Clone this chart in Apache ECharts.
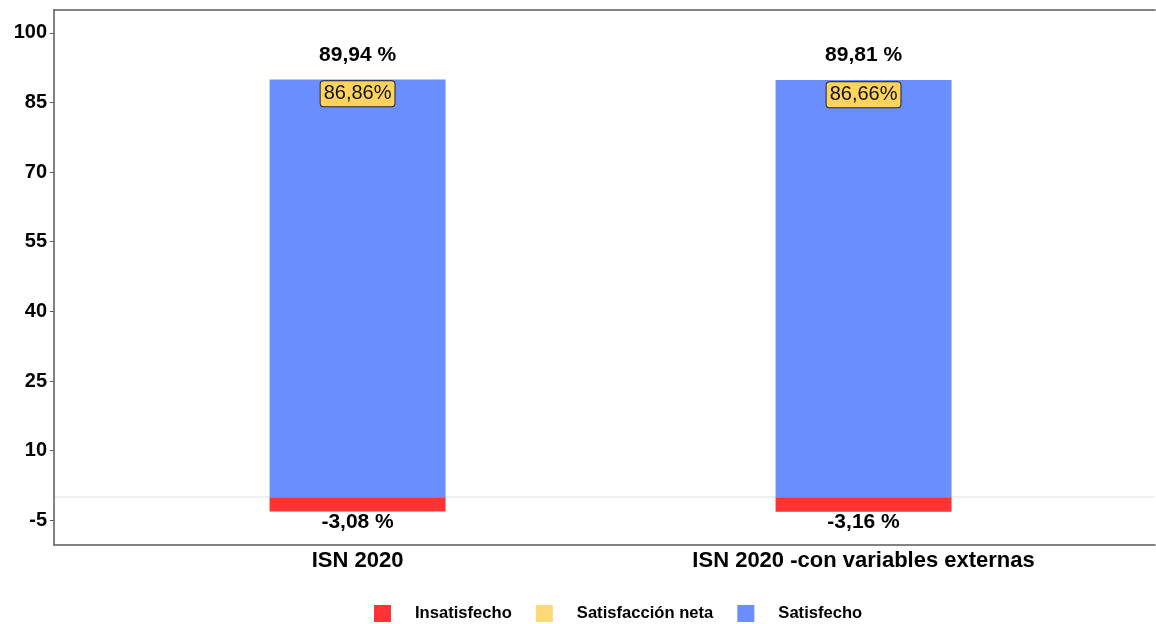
<!DOCTYPE html>
<html>
<head>
<meta charset="utf-8">
<script src="https://cdn.jsdelivr.net/npm/echarts@6/dist/echarts.min.js"></script>
<style>
html,body{margin:0;padding:0;background:#fff;}
#c{width:1156px;height:624px;}
</style>
</head>
<body>
<div id="c"></div>
<script>
const categories = ['ISN 2020', 'ISN 2020 -con variables externas'];
const satisfecho = [89.94, 89.81];
const insatisfecho = [-3.08, -3.16];
const satisfaccionNeta = [86.86, 86.66];
const yTicks = [-5, 10, 25, 40, 55, 70, 85, 100];

const FONT = "'Liberation Sans', Arial, sans-serif";
const fmt = v => v.toFixed(2).replace('.', ',');
const toXY = arr => arr.map((v, i) => [i + 1, v]);
const BORDER = {show: true, onZero: false, lineStyle: {color: '#5a5a5a', width: 1.5}};

const chart = echarts.init(document.getElementById('c'), null, {renderer: 'canvas'});
chart.setOption({
  animation: false,
  backgroundColor: '#ffffff',
  textStyle: {fontFamily: FONT},
  grid: {left: 54, right: 1, top: 10, bottom: 79, show: false},
  legend: {
    left: 369, top: 600,
    icon: 'rect', itemWidth: 17, itemHeight: 17, itemGap: 24,
    selectedMode: false,
    data: ['Insatisfecho', 'Satisfacción neta', 'Satisfecho'],
    textStyle: {fontFamily: FONT, fontWeight: 'bold', fontSize: 16.6, color: '#000', padding: [0, 0, 0, 19]}
  },
  xAxis: [{
    type: 'value', min: 0.4, max: 2.576,
    axisLine: BORDER,
    axisTick: {show: false},
    splitLine: {show: false},
    axisLabel: {
      customValues: [1, 2],
      formatter: v => categories[Math.round(v) - 1],
      fontFamily: FONT, fontWeight: 'bold', fontSize: 22, color: '#000', margin: 5
    }
  }, {
    type: 'value', position: 'top', min: 0.4, max: 2.576,
    axisLine: BORDER,
    axisTick: {show: false}, axisLabel: {show: false}, splitLine: {show: false}
  }],
  yAxis: {
    type: 'value', min: -10.3, max: 104.9,
    axisLine: BORDER,
    splitLine: {show: false},
    axisTick: {show: true, customValues: yTicks, length: 4, lineStyle: {color: '#5a5a5a', width: 1}},
    axisLabel: {
      customValues: yTicks,
      fontFamily: FONT, fontWeight: 'bold', fontSize: 20, color: '#000', margin: 7
    }
  },
  series: [
    {
      name: 'Satisfecho', type: 'bar', stack: 's', barWidth: 176,
      data: toXY(satisfecho),
      itemStyle: {color: '#6B8EFF'},
      label: {
        show: true, position: 'top', distance: 14,
        formatter: p => fmt(p.value[1]) + ' %',
        fontFamily: FONT, fontWeight: 'bold', fontSize: 21, color: '#000'
      },
      markLine: {
        silent: true, symbol: 'none', z: 0,
        label: {show: false},
        lineStyle: {color: '#ebebeb', width: 1.5, type: 'solid'},
        data: [{yAxis: 0}]
      }
    },
    {
      name: 'Insatisfecho', type: 'bar', stack: 's', barWidth: 176,
      data: toXY(insatisfecho),
      itemStyle: {color: '#FF3333'},
      label: {
        show: true, position: 'outside', distance: 0,
        formatter: p => fmt(p.value[1]) + ' %',
        fontFamily: FONT, fontWeight: 'bold', fontSize: 21, color: '#000'
      }
    },
    {
      name: 'Satisfacción neta', type: 'scatter', z: 10,
      symbol: 'rect', symbolSize: 0,
      data: toXY(satisfaccionNeta),
      itemStyle: {color: '#FDD97A', opacity: 1},
      label: {
        show: true, position: 'inside',
        formatter: p => fmt(p.value[1]) + '%',
        fontFamily: FONT, fontSize: 20, color: '#111',
        backgroundColor: '#FFD35C', borderColor: '#222', borderWidth: 1,
        borderRadius: 3, padding: [3, 3, 2, 3]
      }
    }
  ]
});
</script>
</body>
</html>
